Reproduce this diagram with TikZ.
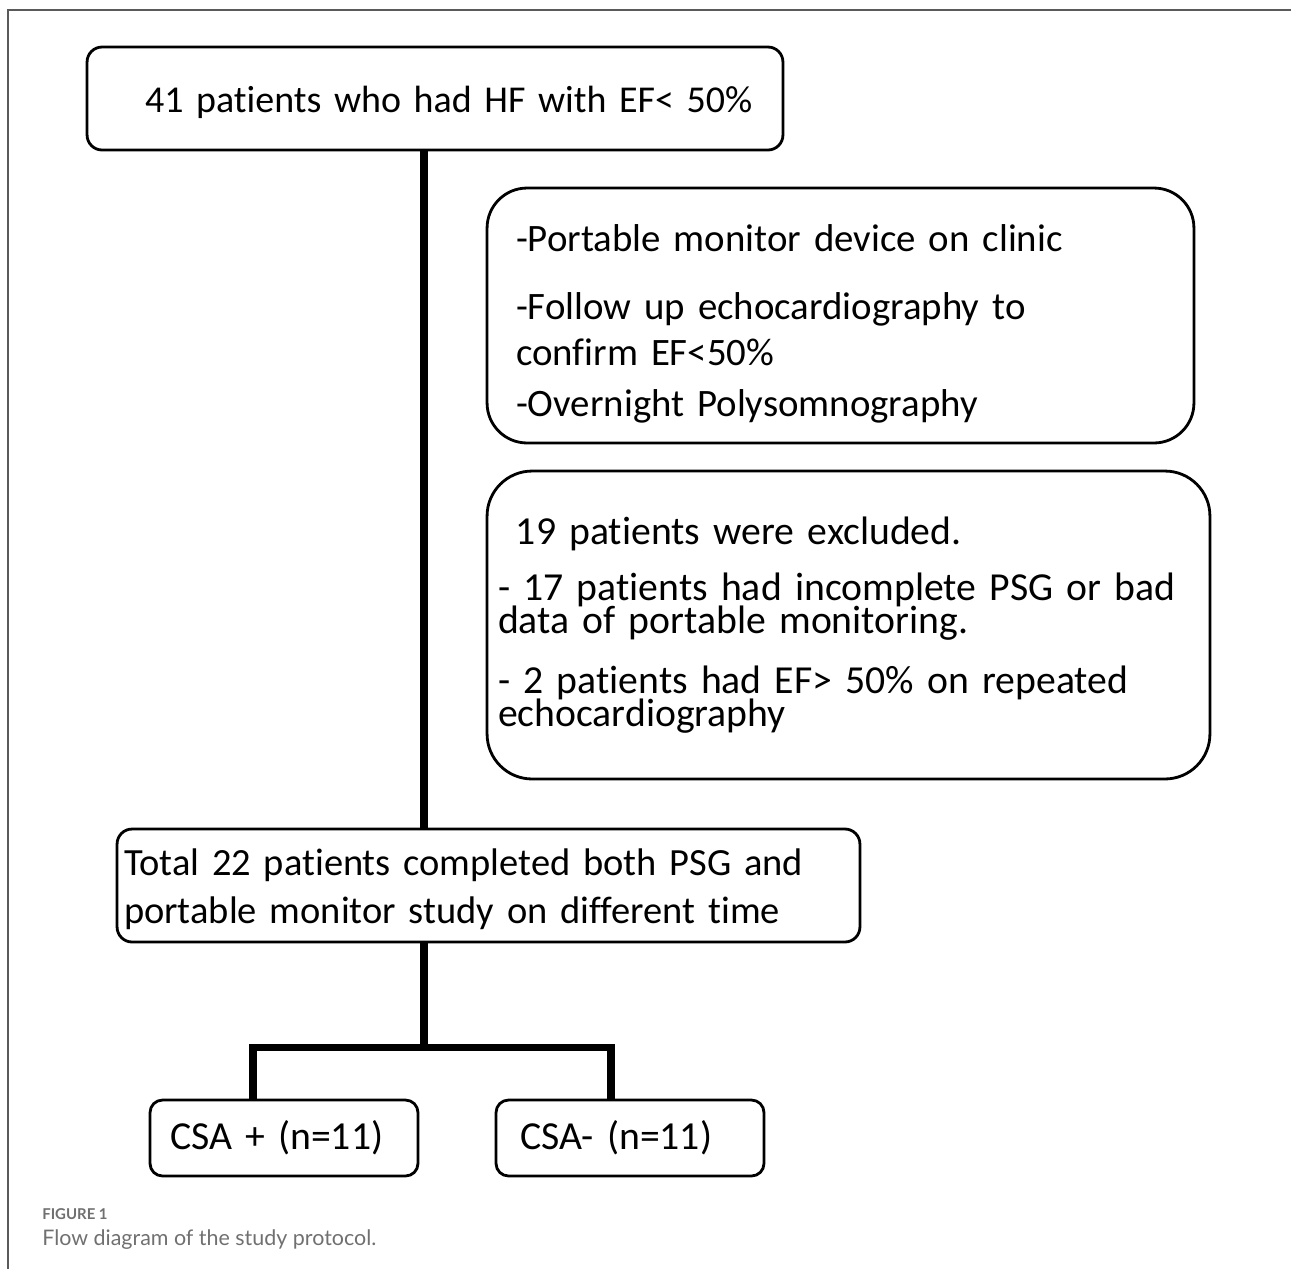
\documentclass[tikz,border=0pt]{standalone}
\usepackage{fontspec}
\setmainfont[Ligatures=NoCommon]{Carlito}
\newfontfamily\capfont{Lato}
\usetikzlibrary{positioning, calc}
\definecolor{framegray}{HTML}{5A5A5A}
\definecolor{capgray}{HTML}{707070}
\newcommand{\tightskip}{\lineskiplimit=-30pt\relax}

\begin{document}
\begin{tikzpicture}[x=0.02cm, y=-0.02cm]
    \tikzstyle{stage} = [rectangle, draw=black, line width=1.6pt, align=left, inner ysep=0pt, minimum width=5cm]
    \tikzstyle{link} = [draw, line width=4pt]
    \tikzstyle{captext} = [anchor=base west, inner sep=0pt, text=capgray]

    \useasboundingbox (0,0) rectangle (1291,1269);
    \draw [framegray, line width=1pt] (1291,10) -- (8,10) -- (8,1269);

    \node [stage, rounded corners=0.3cm, minimum width=13.92cm, minimum height=2.06cm, inner xsep=0.4cm, text width=13.12cm, font=\fontsize{21.6}{26}\selectfont] (hf) at (435,98.5) {\rule{0pt}{19pt}\hspace*{0.76cm}41 patients who had HF with EF< 50\%};
    \node [stage, rounded corners=0.8cm, minimum width=14.14cm, minimum height=5.1cm, inner xsep=0.58cm, text width=12.98cm, font=\fontsize{22.1}{26.1}\selectfont\tightskip] (steps) at (840.5,315.5) {\rule{0pt}{25pt}-Portable monitor device on clinic\\[12.5pt]-Follow up echocardiography to\\confirm EF<50\%\\[2.8pt]-Overnight Polysomnography};
    \node [stage, rounded corners=0.9cm, minimum width=14.46cm, minimum height=6.16cm, inner xsep=0.22cm, text width=14.02cm, font=\fontsize{22.6}{18.7}\selectfont\tightskip] (excl) at (848.5,625) {\hspace*{0.45em}19 patients were excluded.\\[13pt]- 17 patients had incomplete PSG or bad\\data of portable monitoring.\\[15.5pt]- 2 patients had EF> 50\% on repeated\\echocardiography};
    \node [stage, rounded corners=0.3cm, minimum width=14.86cm, minimum height=2.26cm, inner xsep=0.14cm, text width=14.58cm, font=\fontsize{21.9}{27.2}\selectfont\tightskip] (tot) at (488.5,885.5) {\rule{0pt}{19pt}Total 22 patients completed both PSG and\\portable monitor study on different time};
    \node [stage, rounded corners=0.25cm, minimum width=5.36cm, minimum height=1.52cm, inner xsep=0.4cm, text width=4.56cm, font=\fontsize{22.6}{26}\selectfont] (pos) at (284,1138) {CSA + (n=11)};
    \node [stage, rounded corners=0.25cm, minimum width=5.36cm, minimum height=1.52cm, inner xsep=0.48cm, text width=4.4cm, font=\fontsize{22.6}{26}\selectfont] (neg) at (630,1138) {CSA- (n=11)};

    \coordinate (trunk) at (424,1047);
    \coordinate (bl) at (253,1047);
    \coordinate (br) at (611,1047);

    \path [link] (hf.south -| trunk) -- (tot.north -| trunk);
    \path [link] (tot.south -| trunk) -- (trunk);
    \path [link] (pos.north -| bl) -- (bl) -- (br) -- (neg.north -| br);

    \node [captext, font=\capfont\bfseries\fontsize{8.5}{10}\selectfont] (fignum) at (42,1219) {FIGURE 1};
    \node [captext, font=\capfont\fontsize{12.2}{14}\selectfont] (figcap) at (42,1245) {Flow diagram of the study protocol.};
\end{tikzpicture}
\end{document}
